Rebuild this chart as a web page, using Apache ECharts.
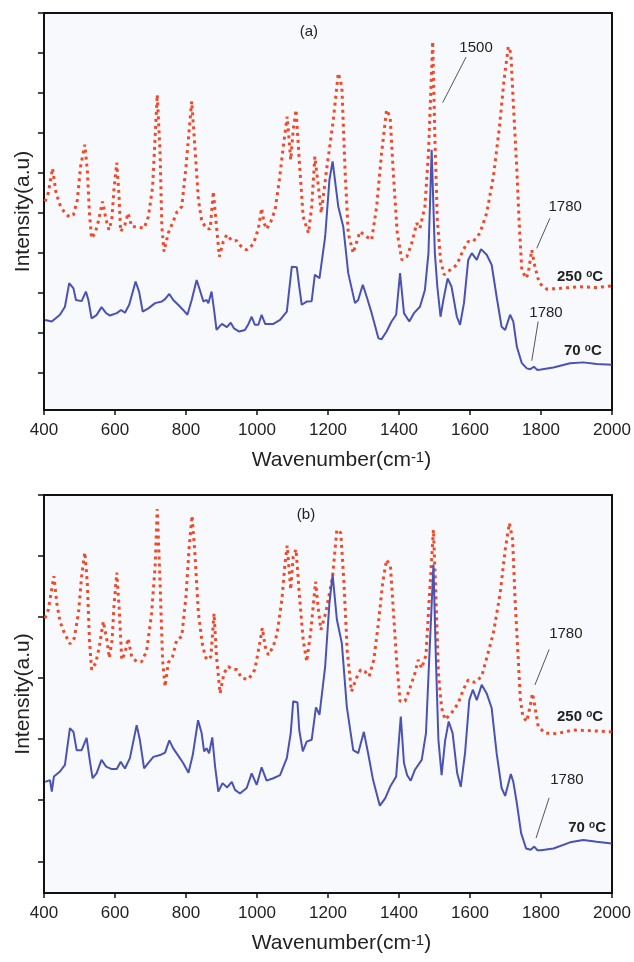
<!DOCTYPE html>
<html>
<head>
<meta charset="utf-8">
<script src="https://cdn.jsdelivr.net/npm/echarts@6/dist/echarts.min.js"></script>
<style>
  html, body { margin: 0; padding: 0; background: #fff; }
  #chart { width: 634px; height: 962px; }
</style>
</head>
<body>
<div id="chart"></div>
<script>
// wavenumber axis (cm-1)
const xMin = 400;
const xMax = 2000;
const xStep = 200;

// y ticks (a.u.), counted down from the top of each panel
const yMaxA = 9.92;
const yTicksA = [0.92, 1.92, 2.92, 3.92, 4.92, 5.92, 6.92, 7.92, 8.92, 9.92];
const yMaxB = 6.52;
const yTicksB = [0.52, 1.52, 2.52, 3.52, 4.52, 5.52, 6.52];

// panel (a) 70 °C  [wavenumber, intensity]
const a70 = [[403,2.25],[422,2.21],[445,2.38],[459,2.58],[471,3.17],[483,3.04],[490,2.75],[506,2.72],[518,2.96],[525,2.75],[534,2.29],[548,2.37],[562,2.57],[575,2.42],[586,2.36],[605,2.42],[617,2.5],[628,2.43],[640,2.63],[658,3.21],[668,2.95],[678,2.46],[694,2.54],[713,2.67],[732,2.71],[741,2.77],[753,2.9],[764,2.75],[778,2.63],[792,2.5],[804,2.38],[816,2.75],[830,3.25],[839,3.0],[849,2.71],[858,2.75],[863,2.67],[872,2.96],[879,2.5],[886,2.0],[901,2.15],[915,2.07],[926,2.18],[935,2.04],[950,1.96],[966,2.0],[976,2.15],[985,2.33],[994,2.13],[1004,2.13],[1013,2.38],[1023,2.15],[1046,2.15],[1065,2.25],[1084,2.46],[1098,3.58],[1112,3.57],[1119,3.08],[1126,2.63],[1140,2.71],[1154,2.72],[1163,3.38],[1176,3.29],[1192,4.33],[1204,5.75],[1213,6.21],[1229,5.08],[1243,4.58],[1257,3.42],[1276,2.67],[1285,2.75],[1298,3.13],[1309,2.83],[1323,2.42],[1342,1.79],[1351,1.77],[1365,1.96],[1379,2.21],[1392,2.38],[1403,3.42],[1414,2.42],[1429,2.21],[1442,2.42],[1459,2.58],[1473,3.0],[1483,3.92],[1492,6.5],[1501,3.92],[1508,3.08],[1517,2.33],[1525,2.75],[1537,3.29],[1548,3.08],[1563,2.33],[1572,2.13],[1583,2.67],[1595,3.75],[1605,3.92],[1619,3.75],[1631,4.02],[1647,3.88],[1661,3.63],[1675,2.83],[1689,2.08],[1699,2.0],[1713,2.38],[1722,2.21],[1732,1.58],[1746,1.17],[1760,1.04],[1770,1.02],[1780,1.08],[1790,1.0],[1800,1.01],[1835,1.06],[1882,1.17],[1919,1.19],[1957,1.15],[1999,1.13]];

// panel (a) 250 °C
const a250 = [[403,5.21],[412,5.42],[424,6.04],[434,5.42],[445,5.13],[456,4.96],[471,4.82],[483,4.88],[494,5.25],[503,6.08],[515,6.63],[522,6.0],[528,4.92],[534,4.29],[544,4.42],[553,4.71],[565,5.21],[575,4.75],[583,4.5],[591,4.75],[597,5.5],[605,6.18],[611,5.4],[616,4.46],[628,4.63],[637,4.92],[647,4.58],[661,4.58],[682,4.54],[694,4.83],[706,5.58],[719,7.88],[727,6.42],[732,4.58],[738,3.96],[750,4.42],[762,4.67],[775,4.96],[788,5.08],[800,6.08],[809,7.0],[816,7.71],[825,6.58],[835,5.25],[844,4.75],[856,4.54],[868,4.52],[877,5.46],[885,4.67],[894,3.83],[905,4.21],[915,4.38],[929,4.23],[943,4.23],[957,4.07],[971,4.0],[990,4.15],[1004,4.54],[1013,5.04],[1020,4.67],[1027,4.52],[1039,4.71],[1051,5.0],[1063,5.75],[1074,6.58],[1085,7.33],[1095,6.25],[1102,7.0],[1110,7.5],[1119,6.25],[1130,4.83],[1145,4.42],[1154,5.08],[1163,6.33],[1173,5.58],[1181,4.92],[1196,6.0],[1215,7.25],[1229,8.42],[1239,8.08],[1248,6.0],[1257,4.42],[1271,3.92],[1290,4.46],[1309,4.33],[1323,4.25],[1337,5.08],[1351,6.42],[1365,7.5],[1375,7.33],[1384,5.92],[1395,4.42],[1408,3.75],[1422,3.83],[1436,4.17],[1450,4.67],[1459,4.54],[1473,5.08],[1483,6.42],[1495,9.21],[1501,6.83],[1508,4.75],[1517,3.75],[1527,3.38],[1544,3.5],[1563,3.63],[1581,4.0],[1595,4.21],[1609,4.21],[1628,4.42],[1647,4.92],[1666,5.83],[1683,7.08],[1696,8.25],[1708,9.08],[1715,8.92],[1722,7.67],[1732,6.0],[1739,4.58],[1746,3.5],[1758,3.29],[1764,3.42],[1774,4.0],[1783,3.58],[1795,3.17],[1816,3.02],[1854,3.04],[1910,3.08],[1957,3.06],[1999,3.1]];

// panel (b) 70 °C
const b70 = [[403,1.82],[417,1.85],[422,1.66],[428,1.91],[445,1.99],[459,2.1],[473,2.7],[483,2.64],[492,2.34],[506,2.34],[520,2.54],[530,2.13],[537,1.88],[548,1.96],[562,2.18],[575,2.07],[591,2.03],[605,2.03],[616,2.15],[628,2.04],[642,2.21],[661,2.75],[670,2.51],[682,2.04],[694,2.13],[708,2.23],[727,2.26],[741,2.3],[753,2.5],[764,2.37],[778,2.25],[792,2.13],[807,1.97],[819,2.26],[834,2.83],[844,2.62],[851,2.32],[858,2.37],[865,2.29],[874,2.55],[882,2.07],[891,1.66],[903,1.8],[916,1.73],[929,1.82],[938,1.69],[952,1.63],[971,1.72],[985,1.96],[999,1.77],[1013,2.06],[1027,1.84],[1046,1.88],[1065,1.93],[1084,2.21],[1095,2.62],[1102,3.14],[1114,3.12],[1119,2.67],[1129,2.32],[1140,2.48],[1154,2.51],[1166,3.04],[1176,2.92],[1192,3.71],[1204,4.75],[1213,5.21],[1225,4.48],[1239,4.09],[1253,3.05],[1271,2.34],[1285,2.29],[1301,2.64],[1313,2.29],[1327,1.85],[1346,1.43],[1361,1.55],[1375,1.74],[1392,1.91],[1405,2.89],[1414,2.13],[1423,1.93],[1433,1.84],[1445,2.02],[1464,2.18],[1476,2.62],[1485,3.82],[1497,5.38],[1504,3.82],[1511,2.51],[1520,1.93],[1530,2.5],[1540,2.81],[1551,2.62],[1564,1.96],[1574,1.74],[1586,2.29],[1598,3.16],[1608,3.33],[1619,3.16],[1633,3.41],[1647,3.27],[1661,3.03],[1675,2.29],[1689,1.72],[1699,1.59],[1715,1.95],[1722,1.82],[1732,1.47],[1744,0.98],[1758,0.73],[1771,0.71],[1781,0.76],[1790,0.7],[1800,0.7],[1835,0.73],[1882,0.83],[1919,0.87],[1957,0.84],[1999,0.81]];

// panel (b) 250 °C
const b250 = [[403,4.5],[412,4.64],[428,5.19],[436,4.75],[445,4.45],[456,4.28],[473,4.08],[485,4.17],[497,4.58],[506,5.19],[515,5.58],[522,5.08],[528,4.15],[534,3.66],[546,3.77],[556,4.04],[567,4.45],[577,4.15],[584,3.85],[592,4.15],[597,4.69],[605,5.25],[612,4.64],[619,3.82],[628,3.93],[637,4.17],[647,3.87],[661,3.79],[675,3.79],[689,3.96],[703,4.58],[713,5.35],[719,6.29],[727,5.08],[734,3.82],[741,3.38],[750,3.77],[762,3.87],[774,4.15],[788,4.2],[800,4.86],[809,5.67],[817,6.18],[825,5.57],[835,4.58],[847,4.04],[858,3.82],[870,3.87],[879,4.58],[886,3.87],[896,3.27],[907,3.6],[919,3.71],[932,3.66],[943,3.66],[957,3.52],[976,3.5],[994,3.66],[1006,4.04],[1015,4.34],[1023,4.04],[1032,3.9],[1046,4.04],[1057,4.26],[1070,4.8],[1079,5.4],[1085,5.69],[1095,4.97],[1102,5.51],[1110,5.63],[1119,4.91],[1130,4.15],[1140,3.79],[1151,4.26],[1165,5.1],[1173,4.64],[1180,4.31],[1194,4.6],[1206,4.97],[1213,5.19],[1225,5.95],[1236,5.9],[1245,5.08],[1254,3.98],[1266,3.3],[1280,3.52],[1292,3.66],[1304,3.63],[1316,3.55],[1329,3.82],[1342,4.42],[1354,5.08],[1365,5.46],[1376,5.35],[1384,4.64],[1393,3.82],[1403,3.14],[1417,3.14],[1431,3.36],[1445,3.6],[1454,3.82],[1464,3.68],[1476,3.9],[1485,4.8],[1497,5.95],[1504,4.86],[1511,3.6],[1520,3.03],[1530,2.84],[1548,2.95],[1567,3.11],[1581,3.33],[1595,3.49],[1614,3.45],[1633,3.55],[1647,3.85],[1666,4.26],[1685,4.91],[1699,5.62],[1711,6.06],[1720,5.79],[1727,4.8],[1736,3.82],[1742,3.16],[1749,2.89],[1760,2.81],[1769,3.05],[1776,3.27],[1783,3.05],[1792,2.73],[1811,2.62],[1844,2.61],[1891,2.67],[1938,2.66],[1999,2.64]];

// text notes and leader lines, in data coordinates
const notesA = [
  { name: '(a)', coord: [1146, 9.45] },
  { name: '1500', coord: [1617, 9.05] },
  { name: '1780', coord: [1868, 5.08] },
  { name: '1780', coord: [1814, 2.43] },
  { name: '{b|250 }{s|o}{b|C}', coord: [1910, 3.33] },
  { name: '{b|70 }{s|o}{b|C}', coord: [1918, 1.48] }
];
const leadersA = [
  [[1589, 8.82], [1523, 7.68]],
  [[1825, 4.79], [1788, 4.04]],
  [[1792, 2.21], [1774, 1.23]]
];
const notesB = [
  { name: '(b)', coord: [1138, 6.2] },
  { name: '1780', coord: [1870, 4.25] },
  { name: '{b|250 }{s|o}{b|C}', coord: [1910, 2.89] },
  { name: '1780', coord: [1873, 1.85] },
  { name: '{b|70 }{s|o}{b|C}', coord: [1930, 1.07] }
];
const leadersB = [
  [[1823, 3.99], [1783, 3.41]],
  [[1823, 1.56], [1786, 0.9]]
];

const FONT = 'Liberation Sans, Arial, sans-serif';
const BLUE = '#4a52b3';
const RED = '#ee4a2c';

let chart = echarts.init(document.getElementById('chart'));

function xAxisFor(gridIndex) {
  return {
    type: 'value',
    gridIndex: gridIndex,
    min: xMin,
    max: xMax,
    interval: xStep,
    name: 'Wavenumber(cm{s|-1})',
    nameLocation: 'middle',
    nameGap: 40,
    nameTextStyle: {
      fontFamily: FONT,
      fontSize: 21,
      color: '#222',
      padding: [0, 0, 0, 27],
      rich: { s: { fontFamily: FONT, fontSize: 15, color: '#222', verticalAlign: 'top' } }
    },
    axisLine: { show: true, onZero: false, lineStyle: { color: '#111', width: 2 } },
    axisTick: { show: true, length: 5, lineStyle: { color: '#111', width: 1.5 } },
    axisLabel: { fontFamily: FONT, fontSize: 17, color: '#222', margin: 12, formatter: v => String(v) },
    splitLine: { show: false }
  };
}

function yAxisFor(gridIndex, max, ticks) {
  return {
    type: 'value',
    gridIndex: gridIndex,
    min: 0,
    max: max,
    name: 'Intensity(a.u)',
    nameLocation: 'middle',
    nameGap: 10,
    nameTextStyle: { fontFamily: FONT, fontSize: 21, color: '#222' },
    axisLine: { show: true, onZero: false, lineStyle: { color: '#111', width: 2 } },
    axisTick: { show: true, length: 6, customValues: ticks, lineStyle: { color: '#111', width: 1.5 } },
    axisLabel: { show: false },
    splitLine: { show: false }
  };
}

function notes(list, leaders) {
  return {
    markPoint: {
      silent: true,
      animation: false,
      symbol: 'circle',
      symbolSize: 0,
      label: {
        show: true,
        position: 'inside',
        formatter: p => p.name,
        fontFamily: FONT,
        fontSize: 15,
        color: '#222',
        rich: {
          b: { fontFamily: FONT, fontSize: 15, fontWeight: 'bold', color: '#222' },
          s: { fontFamily: FONT, fontSize: 10, fontWeight: 'bold', color: '#222', verticalAlign: 'top' }
        }
      },
      data: list.map(n => ({ name: n.name, coord: n.coord }))
    },
    markLine: {
      silent: true,
      animation: false,
      symbol: ['none', 'none'],
      label: { show: false },
      lineStyle: { color: '#555', width: 1, type: 'solid' },
      data: leaders.map(l => [{ coord: l[0] }, { coord: l[1] }])
    }
  };
}

function blueLine(data, xi) {
  return {
    type: 'line',
    xAxisIndex: xi,
    yAxisIndex: xi,
    data: data,
    showSymbol: false,
    smooth: false,
    lineStyle: { color: BLUE, width: 2 },
    itemStyle: { color: BLUE }
  };
}

function redLine(data, xi) {
  return {
    type: 'line',
    xAxisIndex: xi,
    yAxisIndex: xi,
    data: data,
    showSymbol: false,
    smooth: false,
    lineStyle: { color: RED, width: 3, type: [3, 4] },
    itemStyle: { color: RED }
  };
}

chart.setOption({
  animation: false,
  backgroundColor: '#fff',
  grid: [
    { left: 44, right: 22, top: 13, height: 397, show: true, backgroundColor: '#f8f9fc', borderColor: '#111', borderWidth: 2 },
    { left: 44, right: 22, top: 495, height: 398, show: true, backgroundColor: '#f8f9fc', borderColor: '#111', borderWidth: 2 }
  ],
  xAxis: [xAxisFor(0), xAxisFor(1)],
  yAxis: [yAxisFor(0, yMaxA, yTicksA), yAxisFor(1, yMaxB, yTicksB)],
  series: [
    redLine(a250, 0),
    Object.assign(blueLine(a70, 0), notes(notesA, leadersA)),
    redLine(b250, 1),
    Object.assign(blueLine(b70, 1), notes(notesB, leadersB))
  ]
});
</script>
</body>
</html>
